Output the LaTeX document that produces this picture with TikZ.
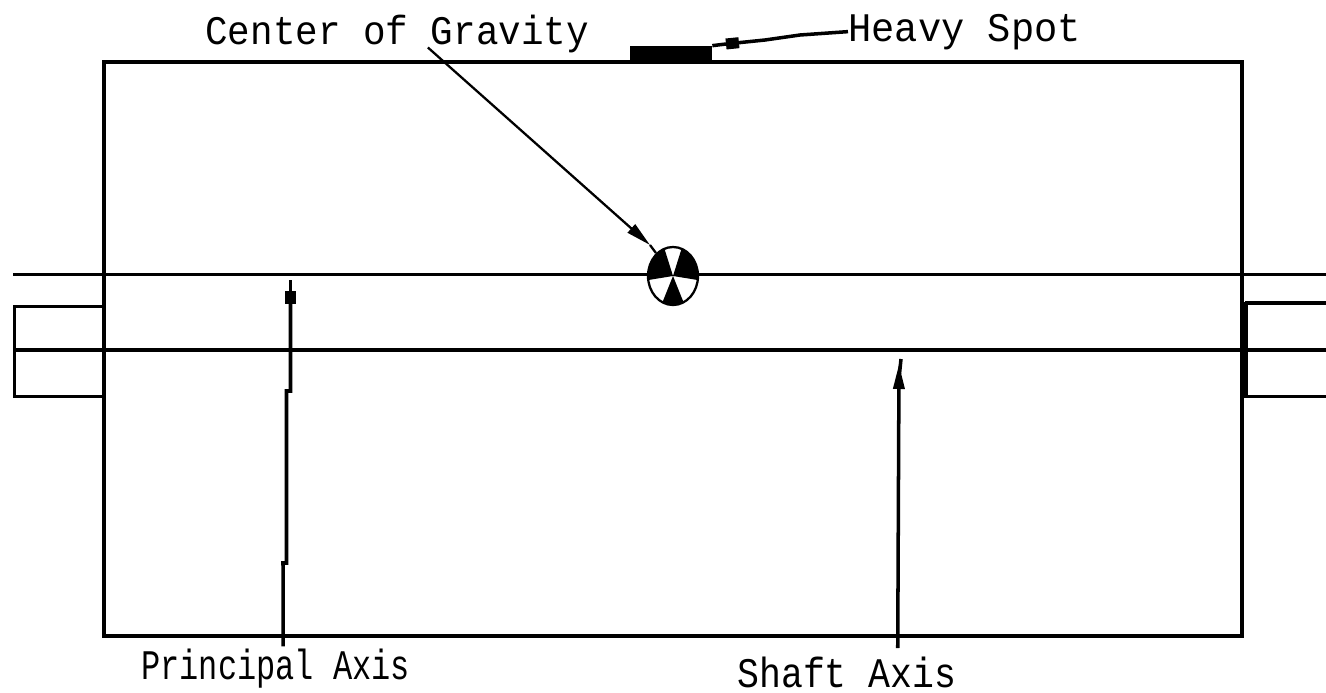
\documentclass[tikz,border=0pt]{standalone}
\usepackage{graphicx}
\usepackage{fontspec}
\setmonofont{Liberation Mono}
\usetikzlibrary{arrows.meta,shapes.geometric}

\begin{document}
\begin{tikzpicture}[x=0.02cm,y=-0.02cm,>=Stealth,line join=miter,
  outline/.style={line width=2pt},
  leader/.style={line width=1.3pt},
  squaretip/.style={-{Rectangle[length=0.26cm,width=0.22cm]}},
  wedgetip/.style={-{Triangle[length=0.5cm,width=0.22cm]}},
  callout/.style={inner sep=0pt,anchor=base west,font=\ttfamily\fontsize{21.4}{24}\selectfont}]
\useasboundingbox (0,0) rectangle (1326,693);
% rotor body and journals
\node[draw,outline,minimum width=22.76cm,minimum height=11.48cm,inner sep=0pt] (rotor) at (673,349) {};
\draw[outline] (104,306.5) -- (14.5,306.5) -- (14.5,396.5) -- (104,396.5);
\draw[outline] (1245,303) -- (1326,303);
\draw[outline] (1245,396.5) -- (1326,396.5);
\draw[line width=4pt] (1244.5,302) -- (1244.5,397.5);
% axes
\draw[outline] (13,274.5) -- (1326,274.5);
\draw[outline] (13,350) -- (1326,350);
% center of gravity and heavy spot
\node[draw,leader,ellipse,fill=white,minimum width=1cm,minimum height=1.16cm,inner sep=0pt] (cg) at (673,276) {};
\foreach \ang/\sweep in {-8/78,110/78,245/50}
  \fill (cg.center) -- +(\ang:0.5cm and 0.58cm) arc[start angle=\ang,delta angle=\sweep,x radius=0.5cm,y radius=0.58cm] -- cycle;
\node[fill=black,minimum width=1.64cm,minimum height=0.32cm,inner sep=0pt] (spot) at (671,54) {};
% labels
\node[callout] (cglabel) at (205,44) {\scalebox{1}[1.08]{Center of Gravity}};
\node[callout] (hslabel) at (848,41) {\scalebox{1.03}[1.08]{Heavy Spot}};
\node[callout] (palabel) at (141,679) {\scalebox{0.85}[1.12]{Principal Axis}};
\node[callout] (salabel) at (737,687) {\scalebox{0.97}[1.12]{Shaft Axis}};
% leaders
\coordinate (cgtip) at (650,245);
\coordinate (hstip) at (726,44);
\coordinate (patip) at (290.5,291);
\coordinate (paend) at (290.5,280);
\coordinate (satip) at (899,364);
\coordinate (saneck) at (899.5,374);
\coordinate (saend) at (901,359);
\draw[leader,wedgetip] ([xshift=17.5pt,yshift=3pt]cglabel.south) -- (cgtip);
\draw[leader] (cgtip) -- (cg);
\draw[outline] (spot.north east) -- (hstip);
\draw[outline,squaretip] (hslabel.west) -- (800,35) -- (765,40) -- (hstip);
\draw[outline,squaretip] ([xshift=4.3pt,yshift=1pt]palabel.north) -- (283,563) -- (286.5,563) -- (286.5,391) -- (290.5,391) -- (patip);
\draw[outline] (patip) -- (paend);
\draw[outline,wedgetip] ([xshift=29pt,yshift=4.5pt]salabel.north) -- (satip);
\draw[outline] (saneck) -- (saend);
\end{tikzpicture}
\end{document}
